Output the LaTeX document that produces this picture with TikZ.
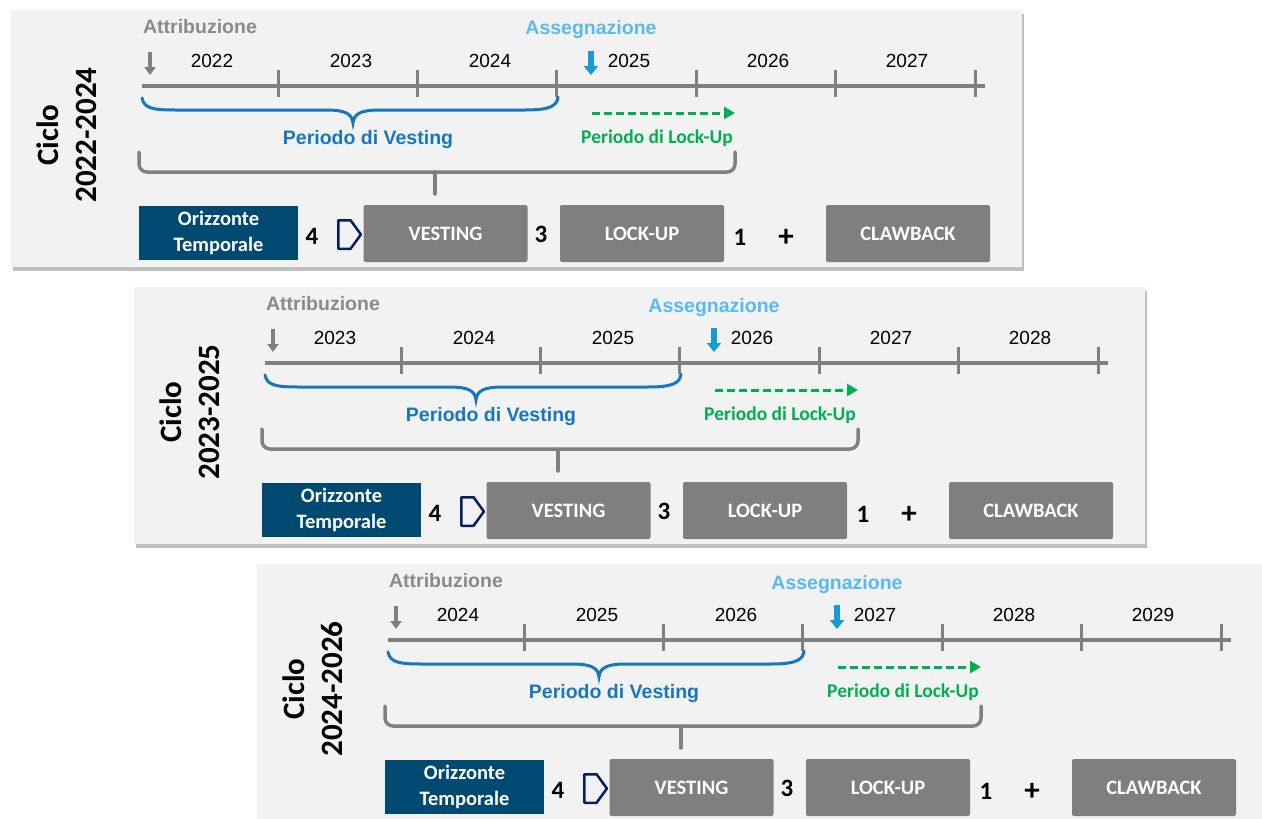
\documentclass[tikz,border=0pt]{standalone}
\usepackage{fontspec}
\setmainfont{Liberation Sans}
\newfontfamily\cali{Carlito}
\usetikzlibrary{arrows.meta,shapes.symbols,shadows}

\definecolor{panelbg}{RGB}{242,242,242}
\definecolor{linegray}{RGB}{128,128,128}
\definecolor{attrgray}{RGB}{138,138,138}
\definecolor{assblue}{RGB}{88,186,242}
\definecolor{arrblue}{RGB}{22,155,215}
\definecolor{vestblue}{RGB}{22,118,190}
\definecolor{lockgreen}{RGB}{0,176,80}
\definecolor{orizblue}{RGB}{0,73,112}
\definecolor{navy}{RGB}{0,32,96}
\definecolor{boxgray}{RGB}{127,127,127}

% one panel: #1 = index (shift), #2 = first year of the cycle
\newcommand{\ciclo}[2]{%
\begin{scope}[shift={(123*#1,277*#1)}]
  \pgfmathtruncatemacro\yend{#2+2}
  \fill[panel] (11,10) rectangle (1022,267);
  \node[cyclelabel] (c#1) at (67,135) {Ciclo\\#2-\yend};
  % timeline
  \coordinate (t#1s) at (142,86);
  \coordinate (t#1e) at (985,86);
  \draw[axis] (t#1s) -- (t#1e);
  \foreach \i in {1,...,6}{
    \coordinate (k#1u\i) at (138.6+139.4*\i,70);
    \coordinate (k#1d\i) at (138.6+139.4*\i,97);
    \draw[tick] (k#1u\i) -- (k#1d\i);
  }
  \foreach \i in {0,...,5}{
    \pgfmathtruncatemacro\yr{#2+\i}
    \node[year] (y#1-\i) at (212+139*\i,61) {\yr};
  }
  % attribuzione / assegnazione
  \node[attr] (at#1) at (200,27) {Attribuzione};
  \coordinate (at#1s) at (150,52);
  \coordinate (at#1e) at (150,75);
  \draw[attrarrow] (at#1s) -- (at#1e);
  \node[ass] (as#1) at (591,30) {Assegnazione};
  \coordinate (as#1s) at (591,51);
  \coordinate (as#1e) at (591,75);
  \draw[assarrow] (as#1s) -- (as#1e);
  % periods
  \coordinate (v#1s) at (142,98);
  \coordinate (v#1e) at (558,97);
  \draw[vbrace] (v#1s) .. controls (144,108) and (152,110) .. (175,110) -- (326,110)
    .. controls (346,110) and (352,114) .. (353,123)
    .. controls (354,114) and (360,110) .. (380,110) -- (525,110)
    .. controls (550,110) and (557,106) .. (v#1e);
  \node[vlabel] (vl#1) at (368,139) {Periodo di Vesting};
  \coordinate (l#1s) at (592,113);
  \coordinate (l#1e) at (735,113);
  \draw[lockarrow] (l#1s) -- (l#1e);
  \node[llabel] (ll#1) at (657,138) {Periodo di Lock-Up};
  \coordinate (b#1a) at (139,152);
  \coordinate (b#1b) at (735,152);
  \coordinate (b#1m) at (435,172);
  \coordinate (b#1t) at (435,194);
  \draw[bracket] (b#1a) |- (b#1m) -| (b#1b);
  \draw[bracket] (b#1m) -- (b#1t);
  % bottom row
  \node[orizbox] (o#1) at (218.5,233) {Orizzonte\\[1pt]Temporale};
  \node[num] (n4#1) at (312,236) {4};
  \node[sig] (s#1) at (344.5,234.5) {};
  \node[graybox] (g1#1) at (445.5,233.5) {VESTING};
  \node[num] (n3#1) at (541,234.5) {3};
  \node[graybox] (g2#1) at (642,233.5) {LOCK-UP};
  \node[num] (n1#1) at (740,237) {1};
  \node[num,font=\cali\bfseries\fontsize{31}{34}\selectfont] (p#1) at (786,237.5) {+};
  \node[graybox] (g3#1) at (908,233.5) {CLAWBACK};
\end{scope}}

\begin{document}
\begin{tikzpicture}[x=1pt,y=-1pt]
\tikzset{
  panel/.style={fill=panelbg,drop shadow={shadow xshift=2pt,shadow yshift=-4pt,fill=black,opacity=.25}},
  cyclelabel/.style={rotate=90,align=center,font=\cali\bfseries\fontsize{31}{38}\selectfont},
  axis/.style={draw=linegray,line width=4pt},
  tick/.style={draw=linegray,line width=3pt},
  year/.style={font=\fontsize{19}{22}\selectfont},
  attr/.style={text=attrgray,font=\bfseries\fontsize{19.5}{22}\selectfont},
  ass/.style={text=assblue,font=\bfseries\fontsize{19.5}{22}\selectfont},
  attrarrow/.style={draw=linegray,line width=4.5pt,-{Triangle[length=8pt,width=11pt]}},
  assarrow/.style={draw=arrblue,line width=5.5pt,-{Triangle[length=9pt,width=14pt]}},
  vbrace/.style={draw=vestblue,line width=3pt,line cap=round},
  vlabel/.style={text=vestblue,font=\bfseries\fontsize{19.5}{22}\selectfont},
  lockarrow/.style={draw=lockgreen,line width=3pt,dash pattern=on 8pt off 4pt,-{Triangle[length=11pt,width=12pt]}},
  llabel/.style={text=lockgreen,font=\cali\bfseries\fontsize{19.5}{22}\selectfont},
  bracket/.style={draw=linegray,line width=3.5pt,rounded corners=8pt,line cap=round},
  orizbox/.style={fill=orizblue,text=white,align=center,inner sep=0pt,minimum width=159pt,minimum height=54pt,font=\cali\bfseries\fontsize{20.5}{24.5}\selectfont},
  graybox/.style={fill=boxgray,text=white,inner sep=0pt,rounded corners=2pt,minimum width=164pt,minimum height=57pt,font=\cali\bfseries\fontsize{20.5}{24}\selectfont},
  num/.style={font=\cali\bfseries\fontsize{25}{28}\selectfont},
  sig/.style={draw=navy,line width=2.5pt,line join=round,shape=signal,signal to=east,signal pointer angle=108,inner sep=0pt,minimum width=22.5pt,minimum height=28.5pt},
}
\useasboundingbox (0,0) rectangle (1262,819);
\clip (0,0) rectangle (1262,819);
\ciclo{0}{2022}
\ciclo{1}{2023}
\ciclo{2}{2024}
\end{tikzpicture}
\end{document}
